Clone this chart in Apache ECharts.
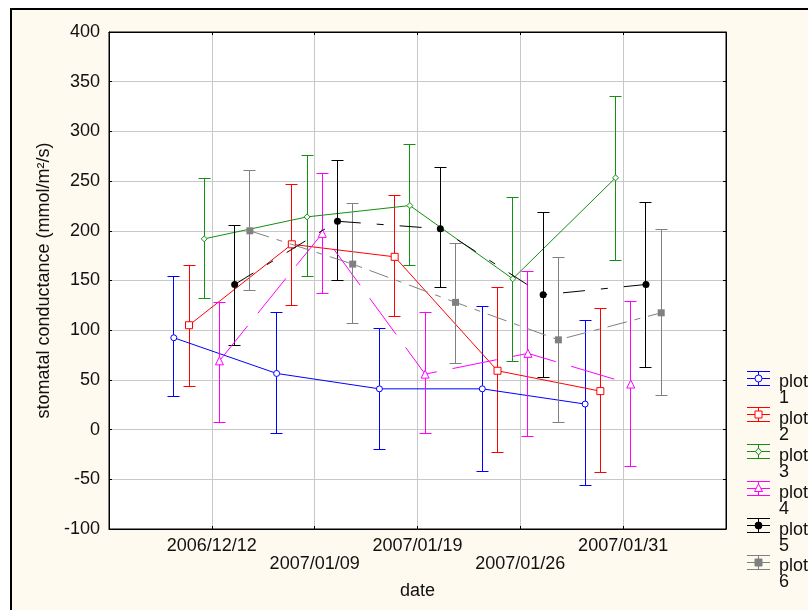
<!DOCTYPE html>
<html>
<head>
<meta charset="utf-8">
<script src="https://cdn.jsdelivr.net/npm/echarts@6/dist/echarts.min.js"></script>
<style>html,body{margin:0;padding:0;background:#fff;}#c{width:808px;height:610px;}</style>
</head>
<body>
<div id="c"></div>
<script>
const categories = ['2006/12/12', '2007/01/09', '2007/01/19', '2007/01/26', '2007/01/31'];
const seriesNames = ['plot 1', 'plot 2', 'plot 3', 'plot 4', 'plot 5', 'plot 6'];
const yTicks = { min: -100, max: 400, step: 50 };

const plot1Mean = [92.4, 56.5, 41, 41, 25.7];
const plot1Low  = [33, -3.8, -19.6, -42, -56];
const plot1High = [154.1, 117.5, 101.8, 124, 110];

const plot2Mean = [105, 186.4, 173.8, 59.2, 38.7];
const plot2Low  = [43.8, 125.3, 114, -23.3, -43.5];
const plot2High = [165, 246.6, 235.9, 142.7, 122.2];

const plot3Mean = [191.9, 214, 225.4, 151.7, 253.3];
const plot3Low  = [132, 154.3, 165.5, 68.2, 169.8];
const plot3High = [252.3, 275.4, 286.5, 233, 335.5];

const plot4Mean = [69.2, 197.4, 55.8, 76.7, 45.8];
const plot4Low  = [7.2, 137, -3.5, -6.5, -37.4];
const plot4High = [128.3, 257.7, 117.9, 159.5, 128.6];

const plot5Mean = [146, 209.6, 202, 135.6, 146];
const plot5Low  = [84.7, 150.4, 142.7, 52.5, 62.6];
const plot5High = [205, 271, 264, 218.8, 228.9];

const plot6Mean = [200, 166.5, 128, 90.3, 117.5];
const plot6Low  = [140.4, 107, 66.2, 6.8, 34.7];
const plot6High = [261, 227.4, 187, 173, 201.5];

const means = [plot1Mean, plot2Mean, plot3Mean, plot4Mean, plot5Mean, plot6Mean];
const lows = [plot1Low, plot2Low, plot3Low, plot4Low, plot5Low, plot6Low];
const highs = [plot1High, plot2High, plot3High, plot4High, plot5High, plot6High];

// styles
const colors = ['#0000ff', '#ff0000', '#119011', '#ff00ff', '#000000', '#808080'];
const dashes = ['solid', 'solid', 'solid', [45, 16], [22, 16, 7, 16], [20, 8, 6, 8]];
const symbols = ['circle', 'rect', 'diamond', 'triangle', 'circle', 'rect'];
const symbolSizes = [6, 7, 6, 8, 7, 7];
const hollow = [true, true, true, true, false, false];
const groupStep = 0.148;
const FONT = "'Liberation Sans', Arial, sans-serif";

const chart = echarts.init(document.getElementById('c'), null, { renderer: 'canvas' });

function crisp(v) { return Math.round(v - 0.5) + 0.5; }

const series = [];
seriesNames.forEach((name, s) => {
  const off = (s - 2.5) * groupStep;
  const errData = categories.map((c, i) => [i + 1 + off, lows[s][i], highs[s][i]]);
  const color = colors[s];
  series.push({
    type: 'custom',
    name: name + ' err',
    data: errData,
    encode: { x: 0, y: [1, 2] },
    z: 2 + s,
    silent: true,
    renderItem: function (params, api) {
      const x = api.value(0);
      const pl = api.coord([x, api.value(1)]);
      const ph = api.coord([x, api.value(2)]);
      const cx = crisp(pl[0]);
      const yl = crisp(pl[1]);
      const yh = crisp(ph[1]);
      const st = { stroke: color, lineWidth: 1 };
      return {
        type: 'group',
        children: [
          { type: 'line', shape: { x1: cx, y1: yl, x2: cx, y2: yh }, style: st },
          { type: 'line', shape: { x1: cx - 6, y1: yh, x2: cx + 6, y2: yh }, style: st },
          { type: 'line', shape: { x1: cx - 6, y1: yl, x2: cx + 6, y2: yl }, style: st }
        ]
      };
    }
  });
  series.push({
    type: 'line',
    name: name,
    data: categories.map((c, i) => [i + 1 + off, means[s][i]]),
    z: 3 + s,
    symbol: symbols[s],
    symbolSize: symbolSizes[s],
    showAllSymbol: true,
    lineStyle: { color: color, width: 1, type: dashes[s] },
    itemStyle: hollow[s] ? { color: '#ffffff', borderColor: color, borderWidth: 1 } : { color: color, borderColor: color, borderWidth: 0 },
    emphasis: { disabled: true },
    animation: false
  });
});

// legend drawn as graphic elements
const legendEls = [];
seriesNames.forEach((name, s) => {
  const top = 371 + s * 36.9;
  const x0 = 747, x1 = 770, cx = 758.5;
  const color = colors[s];
  const st = { stroke: color, lineWidth: 1 };
  const kids = [
    { type: 'line', shape: { x1: x0, y1: crisp(top), x2: x1, y2: crisp(top) }, style: st },
    { type: 'line', shape: { x1: x0, y1: crisp(top + 7), x2: x1, y2: crisp(top + 7) }, style: st },
    { type: 'line', shape: { x1: x0, y1: crisp(top + 14), x2: x1, y2: crisp(top + 14) }, style: st },
    { type: 'line', shape: { x1: cx, y1: crisp(top), x2: cx, y2: crisp(top + 14) }, style: st }
  ];
  const my = crisp(top + 7);
  const fill = hollow[s] ? '#ffffff' : color;
  const ms = { fill: fill, stroke: color, lineWidth: 1 };
  if (symbols[s] === 'circle') kids.push({ type: 'circle', shape: { cx: cx, cy: my, r: 3.5 }, style: ms });
  else if (symbols[s] === 'rect') kids.push({ type: 'rect', shape: { x: cx - 3.5, y: my - 3.5, width: 7, height: 7 }, style: ms });
  else if (symbols[s] === 'diamond') kids.push({ type: 'polygon', shape: { points: [[cx, my - 3.5], [cx + 3, my], [cx, my + 3.5], [cx - 3, my]] }, style: ms });
  else kids.push({ type: 'polygon', shape: { points: [[cx, my - 4.5], [cx + 4, my + 3], [cx - 4, my + 3]] }, style: ms });
  kids.push({
    type: 'text',
    style: { x: 779, y: top + 3, text: name.replace(' ', '\n'), fill: '#111', font: "18px " + FONT, lineHeight: 16, textVerticalAlign: 'top', verticalAlign: 'top' }
  });
  legendEls.push({ type: 'group', z: 50, children: kids });
});

const option = {
  animation: false,
  backgroundColor: '#ffffff',
  textStyle: { fontFamily: FONT },
  graphic: [
    { type: 'rect', z: -10, silent: true, shape: { x: 11, y: 9, width: 900, height: 700 }, style: { fill: '#fffaef', stroke: '#000', lineWidth: 2 } }
  ].concat(legendEls),
  grid: { left: 109, right: 82, top: 32, bottom: 81, show: true, backgroundColor: '#ffffff', borderColor: '#000', borderWidth: 1, z: 0 },
  xAxis: [{
    type: 'value', min: 0, max: 6, interval: 1, position: 'bottom',
    name: 'date', nameLocation: 'middle', nameGap: 53,
    nameTextStyle: { fontSize: 18, color: '#111', fontFamily: FONT },
    axisLine: { show: true, onZero: false, lineStyle: { color: '#000', width: 1 } },
    axisTick: { show: true, inside: true, length: 3, lineStyle: { color: '#000' } },
    splitLine: { show: true, lineStyle: { color: '#c8c8c8', width: 1 } },
    axisLabel: {
      fontSize: 18, color: '#111', margin: 8, lineHeight: 18, fontFamily: FONT,
      formatter: function (v) {
        const i = Math.round(v) - 1;
        if (i < 0 || i >= categories.length) return '';
        return (i % 2 === 1 ? '\n' : '') + categories[i];
      }
    }
  }, {
    type: 'value', min: 0, max: 6, interval: 1, position: 'top',
    axisLine: { show: true, onZero: false, lineStyle: { color: '#000' } },
    axisTick: { show: true, inside: true, length: 3, lineStyle: { color: '#000' } },
    axisLabel: { show: false }, splitLine: { show: false }
  }],
  yAxis: [{
    type: 'value', min: yTicks.min, max: yTicks.max, interval: yTicks.step, position: 'left',
    name: 'stomatal conductance (mmol/m²/s)', nameLocation: 'middle', nameGap: 54,
    nameTextStyle: { fontSize: 18, color: '#111', fontFamily: FONT },
    axisLine: { show: true, onZero: false, lineStyle: { color: '#000', width: 1 } },
    axisTick: { show: true, inside: true, length: 3, lineStyle: { color: '#000' } },
    splitLine: { show: true, lineStyle: { color: '#c8c8c8', width: 1 } },
    axisLabel: { fontSize: 18, color: '#111', margin: 9, fontFamily: FONT }
  }, {
    type: 'value', min: yTicks.min, max: yTicks.max, interval: yTicks.step, position: 'right',
    axisLine: { show: true, onZero: false, lineStyle: { color: '#000' } },
    axisTick: { show: true, inside: true, length: 3, lineStyle: { color: '#000' } },
    axisLabel: { show: false }, splitLine: { show: false }
  }],
  series: series
};
chart.setOption(option);
</script>
</body>
</html>
